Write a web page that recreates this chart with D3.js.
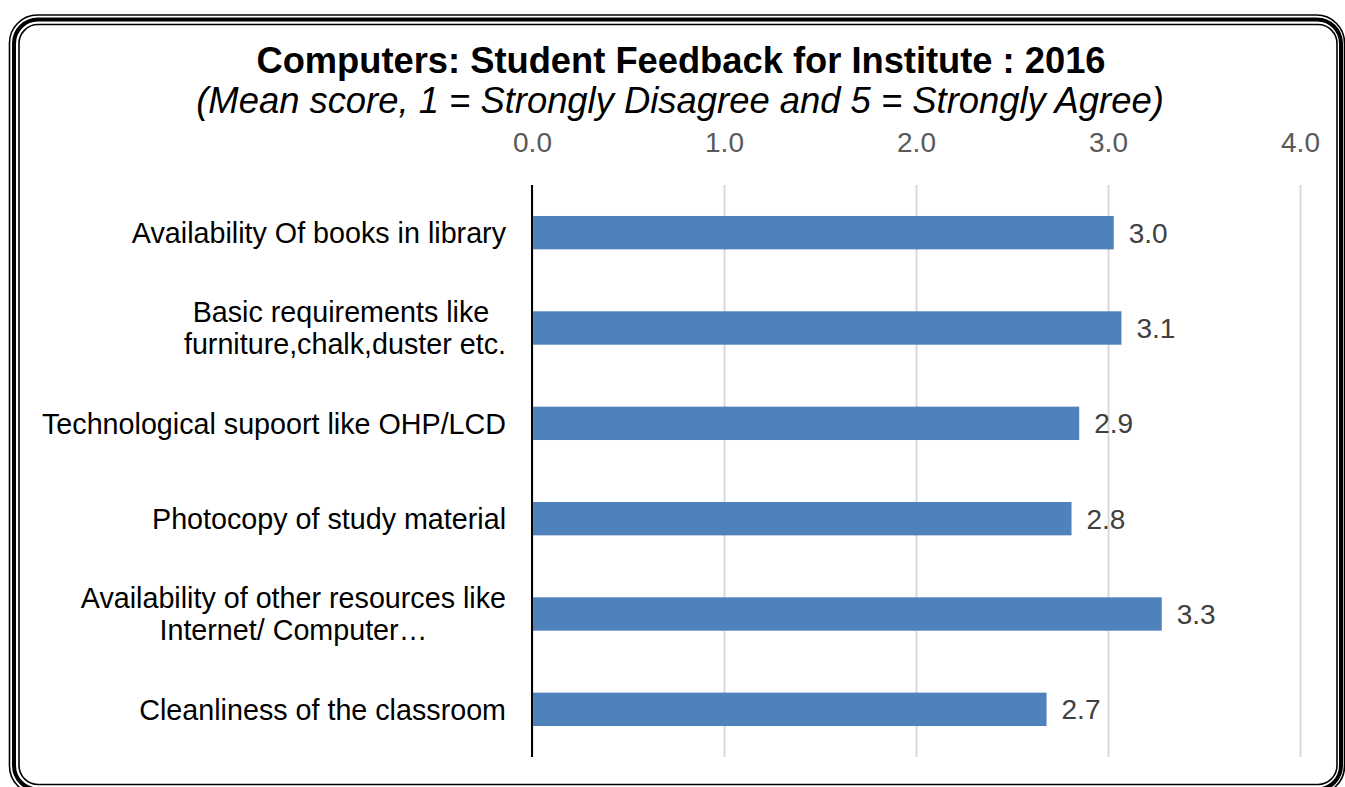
<!DOCTYPE html>
<html>
<head>
<meta charset="utf-8">
<style>
body { margin: 0; background: #fff; }
svg text { font-family: "Liberation Sans", Arial, sans-serif; }
</style>
<script src="https://cdn.jsdelivr.net/npm/d3@7"></script>
</head>
<body>
<script>
// chart data
var categories = [
  ["Availability Of books in library"],
  ["Basic requirements like ", "furniture,chalk,duster etc."],
  ["Technological supoort like OHP/LCD"],
  ["Photocopy of study material"],
  ["Availability of other resources like", "Internet/ Computer\u2026"],
  ["Cleanliness of the classroom"]
];
var scores = [3.03, 3.07, 2.85, 2.81, 3.28, 2.68];
var xTicks = [0, 1, 2, 3, 4];
var titleText = "Computers: Student Feedback for Institute : 2016";
var subtitleText = "(Mean score, 1 = Strongly Disagree and 5 = Strongly Agree)";

var W = 1345, H = 787;
var svg = d3.select("body").append("svg")
  .attr("width", W)
  .attr("height", H);

// triple-line rounded frame
var frame = [
  {x: 9.5, y: 15, w: 1335, h: 779, r: 28, sw: 1.6},
  {x: 14, y: 19.5, w: 1327, h: 770, r: 24, sw: 4},
  {x: 19, y: 24.5, w: 1318, h: 760, r: 19, sw: 1.6}
];
svg.selectAll("rect.frame")
  .data(frame)
  .enter()
  .append("rect")
  .attr("class", "frame")
  .attr("x", function(d) { return d.x; })
  .attr("y", function(d) { return d.y; })
  .attr("width", function(d) { return d.w; })
  .attr("height", function(d) { return d.h; })
  .attr("rx", function(d) { return d.r; })
  .attr("fill", "none")
  .attr("stroke", "#000")
  .attr("stroke-width", function(d) { return d.sw; });

// titles
svg.append("text")
  .attr("x", 681).attr("y", 73)
  .attr("text-anchor", "middle")
  .attr("font-size", "36.3px")
  .attr("font-weight", "bold")
  .attr("fill", "#000")
  .text(titleText);
svg.append("text")
  .attr("x", 680).attr("y", 113)
  .attr("text-anchor", "middle")
  .attr("font-size", "36.4px")
  .attr("font-style", "italic")
  .attr("fill", "#000")
  .text(subtitleText);

var plotLeft = 532, plotRight = 1300, plotTop = 185, plotBottom = 757;

var x = d3.scaleLinear().domain([0, 4]).range([plotLeft, plotRight]);
var y = d3.scaleBand()
  .domain(d3.range(categories.length))
  .range([plotTop, plotBottom])
  .paddingInner(0.65)
  .paddingOuter(0.325);

// gridlines
svg.append("g")
  .attr("transform", "translate(0," + plotTop + ")")
  .call(d3.axisTop(x).tickValues(xTicks).tickSize(-(plotBottom - plotTop)).tickFormat(""))
  .call(function(g) {
    g.select(".domain").remove();
    g.selectAll(".tick line").attr("stroke", "#d9d9d9").attr("stroke-width", 2);
  });

// tick labels
svg.append("g")
  .attr("transform", "translate(0,152)")
  .call(d3.axisTop(x).tickValues(xTicks).tickSize(0).tickPadding(0).tickFormat(d3.format(".1f")))
  .call(function(g) {
    g.select(".domain").remove();
    g.selectAll(".tick text")
      .attr("font-family", "Liberation Sans, Arial, sans-serif")
      .attr("font-size", "28px")
      .attr("fill", "#595959")
      .attr("dy", 0);
  });

// bars
svg.selectAll("rect.bar")
  .data(scores)
  .enter()
  .append("rect")
  .attr("class", "bar")
  .attr("x", x(0))
  .attr("y", function(d, i) { return y(i); })
  .attr("width", function(d) { return x(d) - x(0); })
  .attr("height", y.bandwidth())
  .attr("fill", "#4f81bd");

// value labels
svg.selectAll("text.val")
  .data(scores)
  .enter()
  .append("text")
  .attr("class", "val")
  .attr("x", function(d) { return x(d) + 15; })
  .attr("y", function(d, i) { return y(i) + y.bandwidth() / 2; })
  .attr("dy", "0.36em")
  .attr("font-size", "28px")
  .attr("fill", "#404040")
  .text(function(d) { return d3.format(".1f")(d); });

// y axis line
svg.append("line")
  .attr("x1", x(0)).attr("x2", x(0))
  .attr("y1", plotTop).attr("y2", plotBottom)
  .attr("stroke", "#000")
  .attr("stroke-width", 2);

// category labels: lines centred on each other, block right-aligned
var lineH = 32, labelRight = 506;
categories.forEach(function(lines, i) {
  var cy = y(i) + y.bandwidth() / 2;
  var g = svg.append("g");
  var texts = lines.map(function(s, k) {
    return g.append("text")
      .attr("y", cy + (k - (lines.length - 1) / 2) * lineH)
      .attr("dy", "0.36em")
      .attr("font-size", "28.7px")
      .attr("fill", "#000")
      .attr("text-anchor", "middle")
      .style("white-space", "pre")
      .text(s);
  });
  var maxW = d3.max(texts, function(t) { return t.node().getComputedTextLength(); });
  texts.forEach(function(t) { t.attr("x", labelRight - maxW / 2); });
});
</script>
</body>
</html>
